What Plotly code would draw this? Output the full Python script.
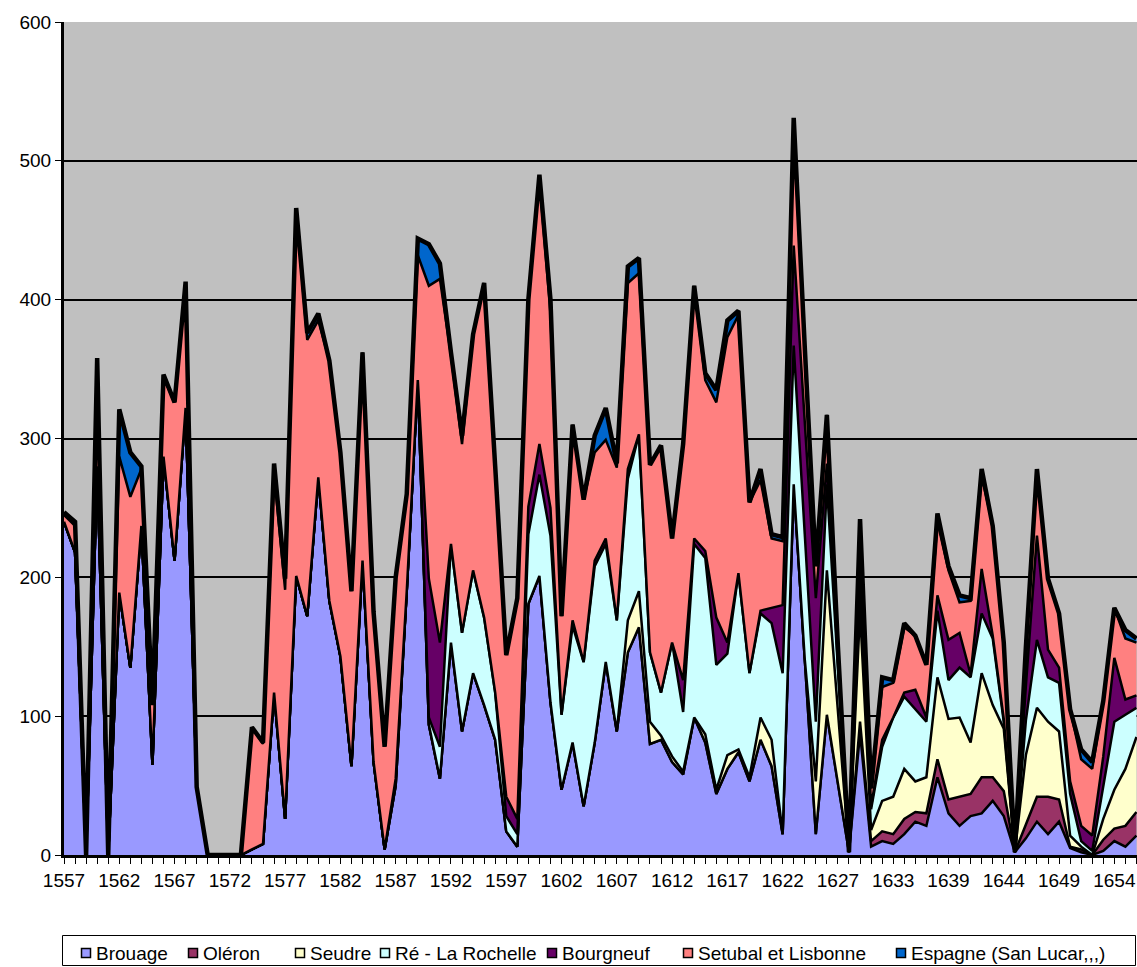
import plotly.graph_objects as go

# Years (category axis); a few years are absent from the series
years = list(range(1557, 1628)) + [1628, 1629, 1631, 1632, 1633,
                                   1634, 1635, 1637, 1638, 1639,
                                   1640, 1641, 1642, 1643, 1644,
                                   1645, 1646, 1647, 1648, 1649,
                                   1650, 1651, 1652, 1653, 1654,
                                   1655, 1656]
years = [str(y) for y in years]

brouage = [240, 218, 0, 280, 0, 189, 135, 237, 65, 287,
           212, 322, 49, 0, 0, 0, 0, 4, 8, 117,
           26, 201, 172, 272, 183, 143, 64, 212, 67, 4,
           50, 190, 342, 94, 55, 153, 89, 131, 108, 83,
           17, 6, 181, 201, 110, 47, 81, 35, 81, 139,
           89, 146, 164, 80, 83, 67, 58, 99, 81, 44,
           62, 74, 53, 83, 64, 15, 267, 141, 15, 101,
           50, 2, 88, 6, 10, 8, 15, 24, 21, 56,
           30, 21, 28, 30, 39, 28, 2, 12, 24, 15,
           24, 5, 2, 0, 3, 10, 6, 14]
oleron = [0] * 72 + [8, 4, 7, 7, 11, 7, 9, 13,
                     10, 21, 16, 26, 17, 18, 0, 10, 18, 27,
                     16, 1, 2, 0, 8, 9, 15, 17]
seudre = [0] * 51 + [23, 26, 16, 3, 4, 2, 0, 6, 3,
                     10, 2, 3, 16, 19, 0, 0, 0, 38, 104,
                     50, 0, 80, 8, 22, 27, 36, 22, 26, 59,
                     58, 57, 37, 75, 52, 45, 0, 50, 64, 54,
                     49, 8, 2, 0, 15, 28, 41, 54]
re_rochelle = [0] * 30 + [5, 0, 0, 5, 23, 71, 71, 74, 63, 34,
                          11, 9, 50, 73, 120, 54, 84, 104, 127, 85,
                          80, 102, 113, 50, 31, 82, 43, 125, 127, 90,
                          73, 127, 75, 75, 84, 116, 100, 90, 43, 62,
                          30, 0, 20, 15, 39, 57, 52, 52, 40, 48,
                          28, 36, 47, 43, 48, 5, 0, 25, 49, 32,
                          35, 30, 4, 3, 25, 49, 39, 21]
bourgneuf = [0] * 33 + [100, 75, 0, 0, 0, 0, 0,
                        14, 11, 20, 22, 20, 0, 4, 0, 4, 4,
                        0, 7, 0, 0, 0, 0, 23, 4, 5, 34,
                        8, 0, 0, 2, 11, 49, 72, 81, 89, 15,
                        8, 0, 10, 2, 5, 0, 3, 14, 3, 11,
                        29, 25, 2, 32, 2, 2, 0, 25, 75, 20,
                        11, 9, 11, 11, 20, 46, 11, 9]
setubal = [5, 19, 0, 78, 0, 98, 123, 41, 43, 57,
           114, 88, 0, 0, 0, 0, 0, 88, 72, 158,
           165, 264, 199, 113, 173, 147, 126, 150, 108, 74,
           145, 70, 90, 211, 262, 136, 136, 170, 241, 163,
           102, 159, 149, 191, 140, 71, 141, 117, 78, 71,
           110, 134, 116, 135, 178, 75, 170, 182, 123, 155,
           220, 186, 123, 94, 50, 46, 85, 54, 23, 35,
           12, 0, 36, 13, 38, 25, 47, 39, 38, 53,
           50, 22, 53, 67, 79, 55, 0, 28, 46, 51,
           39, 52, 48, 48, 40, 36, 44, 38]
espagne = [2, 3, 0, 0, 0, 34, 32, 2, 0, 2,
           0, 3, 0, 0, 0, 0, 0, 0, 1, 7,
           8, 1, 5, 5, 0, 0, 0, 0, 0, 0,
           0, 0, 12, 30, 11, 2, 6, 0, 0, 0,
           0, 0, 0, 3, 10, 0, 0, 0, 12, 23,
           3, 12, 11, 0, 0, 0, 0, 0, 5, 9,
           12, 3, 0, 8, 3, 3, 7, 0, 0, 0,
           0, 0, 0, 0, 7, 2, 3, 0, 0, 6,
           3, 5, 2, 5, 0, 0, 0, 0, 2, 0,
           0, 0, 7, 5, 0, 0, 6, 3]

series = [
    ("Brouage", brouage, "#9999FF"),
    ("Oléron", oleron, "#993366"),
    ("Seudre", seudre, "#FFFFCC"),
    ("Ré - La Rochelle", re_rochelle, "#CCFFFF"),
    ("Bourgneuf", bourgneuf, "#660066"),
    ("Setubal et Lisbonne", setubal, "#FF8080"),
    ("Espagne (San Lucar,,,)", espagne, "#0066CC"),
]

tick_text = [y if i % 5 == 0 else "" for i, y in enumerate(years)]

W, H = 1137, 967
ML, MR, MT, MB = 64, 0, 22, 112
PW, PH = W - ML - MR, H - MT - MB


def px_x(p):
    return (p - ML) / PW


def px_y(p):
    return (H - MB - p) / PH


fig = go.Figure()
for k, (name, vals, col) in enumerate(series):
    fig.add_trace(go.Scatter(
        x=years, y=vals, name=name, stackgroup="one", mode="lines",
        line=dict(color="black", width=4.5 if k == len(series) - 1 else 2.5),
        fillcolor=col, showlegend=False, hoverinfo="x+y+name",
    ))

font = "Liberation Sans, Arial, sans-serif"

# key below the chart: framed box, small squares and series names
legend_text_x = [95, 202, 309, 394, 561, 697, 910]
legend_mid_y = 953
shapes = [dict(type="rect", xref="paper", yref="paper",
               x0=px_x(62.5), x1=px_x(1135.5), y0=px_y(935.5), y1=px_y(965.5),
               line=dict(color="black", width=1), fillcolor="white",
               layer="above")]
annotations = []
for (name, vals, col), tx in zip(series, legend_text_x):
    shapes.append(dict(type="rect", xref="paper", yref="paper",
                       x0=px_x(tx - 13.5), x1=px_x(tx - 4.5),
                       y0=px_y(legend_mid_y + 4.5), y1=px_y(legend_mid_y - 4.5),
                       line=dict(color="black", width=1.5), fillcolor=col,
                       layer="above"))
    annotations.append(dict(xref="paper", yref="paper", x=px_x(tx - 1),
                            y=px_y(legend_mid_y), text=name, showarrow=False,
                            xanchor="left", yanchor="middle",
                            font=dict(family=font, size=19, color="black")))

fig.update_layout(
    width=W, height=H, autosize=False,
    margin=dict(l=ML, r=MR, t=MT, b=MB),
    paper_bgcolor="white", plot_bgcolor="#C0C0C0",
    font=dict(family=font, size=19, color="black"),
    showlegend=False,
    shapes=shapes, annotations=annotations,
    xaxis=dict(type="category", range=[0, 97.05],
               tickmode="array", tickvals=years, ticktext=tick_text,
               ticks="outside", ticklen=6, tickcolor="black", tickwidth=1,
               showgrid=False, showline=True, linecolor="black", linewidth=3,
               zeroline=False, tickangle=0),
    yaxis=dict(range=[0, 600], tickvals=[0, 100, 200, 300, 400, 500, 600],
               ticks="outside", ticklen=6, tickcolor="black", tickwidth=1,
               showgrid=True, gridcolor="black", gridwidth=2,
               showline=True, linecolor="black", linewidth=3,
               zeroline=False),
)

fig.write_html("out.html")
